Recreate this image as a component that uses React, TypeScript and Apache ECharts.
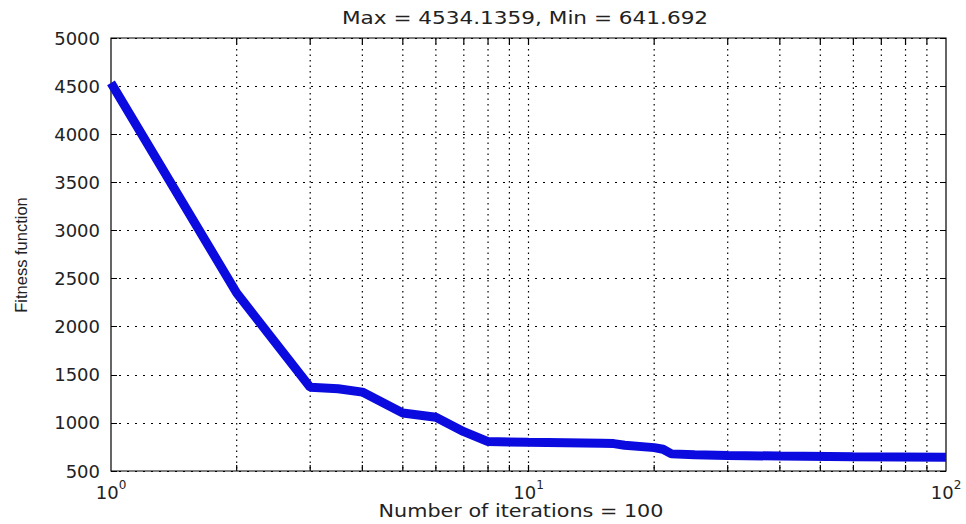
import React, { useEffect, useRef } from "react";
import * as echarts from "echarts";

// iteration number (log x) and fitness value at each vertex of the curve
const iterations = [1, 2, 3, 3.5, 4, 5, 6, 7, 8, 10, 15, 16, 17, 20, 21, 22, 25, 30, 40, 60, 100];
const fitness = [4534, 2350, 1370, 1355, 1320, 1103, 1059, 909, 806, 799, 789, 785, 768, 743, 726, 678, 668, 662, 655, 648, 642];

// dotted x grid lines (log minor + major)
const xGridValues = [2, 3, 4, 5, 6, 7, 8, 9, 10, 20, 30, 40, 50, 60, 70, 80, 90];

const yMin = 500;
const yMax = 5000;
const yStep = 500;

const titleText = "Max = 4534.1359, Min = 641.692";
const xName = "Number of iterations = 100";
const yName = "Fitness function";

export default function App() {
  const ref = useRef<HTMLDivElement>(null);
  useEffect(() => {
    if (!ref.current) return;
    const chart = echarts.init(ref.current, null, { renderer: "svg" });
    const labelFont = "DejaVu Sans";
    const option: any = {
      animation: false,
      backgroundColor: "#ffffff",
      grid: {
        left: 111,
        right: 20,
        top: 38,
        bottom: 53,
        show: true,
        borderColor: "#000",
        borderWidth: 1.2,
        backgroundColor: "transparent",
      },
      graphic: [
        {
          type: "text",
          x: 525,
          y: 18,
          scaleX: 1.27,
          style: {
            text: titleText,
            font: '17px "DejaVu Sans"',
            fill: "#222",
            textAlign: "center",
            textVerticalAlign: "middle",
            align: "center",
            verticalAlign: "middle",
          },
        },
        {
          type: "text",
          x: 521,
          y: 511,
          scaleX: 1.22,
          style: {
            text: xName,
            font: '17px "DejaVu Sans"',
            fill: "#222",
            textAlign: "center",
            textVerticalAlign: "middle",
            align: "center",
            verticalAlign: "middle",
          },
        },
        {
          type: "text",
          x: 21,
          y: 255,
          rotation: Math.PI / 2,
          style: {
            text: yName,
            font: '16.5px "Liberation Sans"',
            fill: "#222",
            textAlign: "center",
            textVerticalAlign: "middle",
            align: "center",
            verticalAlign: "middle",
          },
        },
      ],
      xAxis: {
        type: "log",
        logBase: 10,
        min: 1,
        max: 100,
        axisLine: { show: false },
        axisTick: { show: false },
        splitLine: { show: false },
        axisLabel: {
          margin: 8,
          showMinLabel: true,
          showMaxLabel: true,
          formatter: (v: number) => `{a|10}{s|${Math.round(Math.log10(v))}}`,
          rich: {
            a: { fontFamily: labelFont, fontSize: 18, color: "#222", verticalAlign: "bottom", lineHeight: 22 },
            s: { fontFamily: labelFont, fontSize: 12, color: "#222", verticalAlign: "top", lineHeight: 12 },
          },
        },
      },
      yAxis: [
        {
          type: "value",
          min: yMin,
          max: yMax,
          interval: yStep,
          axisLine: { show: false },
          axisTick: { show: true, inside: true, length: 6, lineStyle: { color: "#000" } },
          axisLabel: {
            margin: 11,
            fontFamily: labelFont,
            fontSize: 18,
            color: "#222",
            formatter: (v: number) => String(v),
          },
          splitLine: { show: true, lineStyle: { color: "#000", width: 1.2, type: [2, 6] } },
        },
        {
          type: "value",
          position: "right",
          min: yMin,
          max: yMax,
          interval: yStep,
          axisLine: { show: false },
          axisTick: { show: true, inside: true, length: 6, lineStyle: { color: "#000" } },
          axisLabel: { show: false },
          splitLine: { show: false },
        },
      ],
      series: [
        {
          type: "custom",
          silent: true,
          z: 1,
          data: xGridValues.map((v) => [v, yMin]),
          encode: { x: 0, y: 1 },
          renderItem: (params: any, api: any) => {
            const x = api.coord([api.value(0), yMin])[0];
            const cs = params.coordSys;
            const top = cs.y;
            const bottom = cs.y + cs.height;
            return {
              type: "group",
              children: [
                {
                  type: "line",
                  shape: { x1: x, y1: top, x2: x, y2: bottom },
                  style: { stroke: "#000", lineWidth: 1.2, lineDash: [1.5, 4] },
                },
                {
                  type: "line",
                  shape: { x1: x, y1: bottom, x2: x, y2: bottom - 6 },
                  style: { stroke: "#000", lineWidth: 1.2 },
                },
                {
                  type: "line",
                  shape: { x1: x, y1: top, x2: x, y2: top + 6 },
                  style: { stroke: "#000", lineWidth: 1.2 },
                },
              ],
            };
          },
        },
        {
          type: "line",
          z: 3,
          data: iterations.map((it, i) => [it, fitness[i]]),
          showSymbol: false,
          symbol: "none",
          lineStyle: { color: "#0b0bdf", width: 9 },
        },
      ],
    };
    chart.setOption(option);
    return () => chart.dispose();
  }, []);
  return (
    <div
      ref={ref}
      style={{ position: "fixed", left: 0, top: 0, width: 966, height: 524 }}
    />
  );
}
